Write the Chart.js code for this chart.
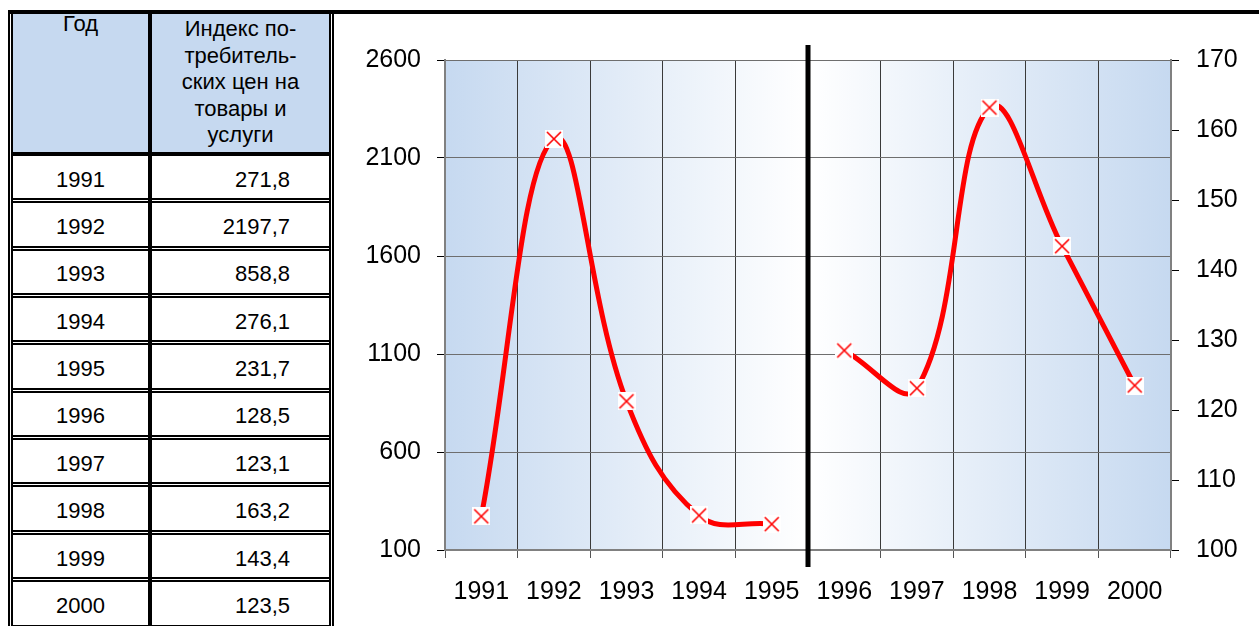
<!DOCTYPE html>
<html>
<head>
<meta charset="utf-8">
<script src="https://cdn.jsdelivr.net/npm/chart.js@4.4.1/dist/chart.umd.min.js"></script>
<style>
  html, body { margin: 0; padding: 0; background: #fff; }
  body { width: 1259px; height: 626px; position: relative; overflow: hidden;
         font-family: 'Liberation Sans', Arial, sans-serif; color: #000; }
  .abs { position: absolute; }
  .blk { position: absolute; background: #000; }
  .dbl-v { position: absolute; box-sizing: border-box; border-left: 2px solid #000; border-right: 2px solid #000; width: 5px; }
  .dbl-h { position: absolute; box-sizing: border-box; border-top: 2px solid #000; border-bottom: 2px solid #000; height: 5px; }
  .hdr { position: absolute; background: #c6d9f0; }
  .cell { position: absolute; font-size: 22px; white-space: nowrap; }
  #chartWrap { position: absolute; left: 335px; top: 15px; width: 924px; height: 611px; }
</style>
</head>
<body>
<div id="table"></div>
<div id="chartWrap"><canvas id="c" width="924" height="611"></canvas></div>
<script>
// ---- data ----
const years = ['1991', '1992', '1993', '1994', '1995', '1996', '1997', '1998', '1999', '2000'];
const cpiEarly = [271.8, 2197.7, 858.8, 276.1, 231.7];   // left axis, 1991-1995
const cpiLate = [128.5, 123.1, 163.2, 143.4, 123.5];     // right axis, 1996-2000
const leftTicks = [100, 600, 1100, 1600, 2100, 2600];
const rightTicks = [100, 110, 120, 130, 140, 150, 160, 170];
const headYear = 'Год';
const headIndexLines = ['Индекс по-', 'требитель-', 'ских цен на', 'товары и', 'услуги'];

// ---- table ----
(function buildTable() {
  const t = document.getElementById('table');
  const add = (cls, css, text, html) => {
    const d = document.createElement('div');
    d.className = cls;
    Object.assign(d.style, css);
    if (text !== undefined) d.textContent = text;
    if (html !== undefined) d.innerHTML = html;
    t.appendChild(d);
    return d;
  };
  add('hdr', { left: '13px', top: '14px', width: '135px', height: '138px' });
  add('hdr', { left: '152px', top: '14px', width: '177px', height: '138px' });
  add('cell', { left: '13px', top: '12px', width: '135px', textAlign: 'center', lineHeight: '24px' }, headYear);
  add('cell', { left: '152px', top: '16px', width: '177px', textAlign: 'center', lineHeight: '26.5px' }, undefined,
      headIndexLines.join('<br>'));
  const values = cpiEarly.concat(cpiLate);
  const pitch = 47.35, y0 = 156;
  years.forEach((yr, i) => {
    const top = y0 + pitch * i;
    add('cell', { left: '13px', top: (top + 2.7) + 'px', width: '135px', height: '42.3px',
                  lineHeight: '42.3px', textAlign: 'center' }, yr);
    add('cell', { left: '152px', top: (top + 2.7) + 'px', width: '138px', height: '42.3px',
                  lineHeight: '42.3px', textAlign: 'right' }, values[i].toFixed(1).replace('.', ','));
    add('dbl-h', { left: '13px', top: (top + pitch - 5) + 'px', width: '316px' });
  });
  add('blk', { left: '13px', top: '152px', width: '316px', height: '4px' });
  add('blk', { left: '148px', top: '14px', width: '4px', height: '612px' });
  add('dbl-v', { left: '8px', top: '10px', height: '616px' });
  add('dbl-v', { left: '329px', top: '10px', height: '616px' });
  add('blk', { left: '8px', top: '10px', width: '1251px', height: '4px' });
})();

// ---- markers ----
function makeMarker() {
  const s = 18, c = document.createElement('canvas');
  c.width = s; c.height = s;
  const g = c.getContext('2d');
  g.fillStyle = '#fff';
  g.fillRect(0, 0, s, s);
  g.strokeStyle = '#ff0000';
  g.lineWidth = 1.6;
  g.beginPath();
  g.moveTo(2, 2); g.lineTo(16, 16);
  g.moveTo(16, 2); g.lineTo(2, 16);
  g.stroke();
  return c;
}
const marker = makeMarker();

const FONT = "'Liberation Sans', Arial, sans-serif";

const bgPlugin = {
  id: 'bg',
  beforeDraw(chart) {
    const { ctx, chartArea: a } = chart;
    const gr = ctx.createLinearGradient(a.left, 0, a.right, 0);
    gr.addColorStop(0, '#c6d9f0');
    gr.addColorStop(0.5, '#ffffff');
    gr.addColorStop(1, '#c6d9f0');
    ctx.save();
    ctx.fillStyle = gr;
    ctx.fillRect(a.left, a.top, a.right - a.left, a.bottom - a.top);
    ctx.restore();
  }
};
const sepPlugin = {
  id: 'sep',
  afterDatasetsDraw(chart) {
    const { ctx, chartArea: a } = chart;
    const xs = chart.scales.x;
    const x = (xs.getPixelForValue(4) + xs.getPixelForValue(5)) / 2;
    ctx.save();
    ctx.strokeStyle = '#000';
    ctx.lineWidth = 5;
    ctx.beginPath();
    ctx.moveTo(x, a.top - 15);
    ctx.lineTo(x, a.bottom + 17);
    ctx.stroke();
    ctx.restore();
  }
};

const nulls = n => Array(n).fill(null);
const plain = v => String(v);

new Chart(document.getElementById('c'), {
  type: 'line',
  data: {
    labels: years,
    datasets: [
      {
        data: cpiEarly.concat(nulls(cpiLate.length)),
        yAxisID: 'y',
        borderColor: '#ff0000',
        borderWidth: 5,
        tension: 0.4,
        pointStyle: marker,
        pointRadius: 9,
        spanGaps: false
      },
      {
        data: nulls(cpiEarly.length).concat(cpiLate),
        yAxisID: 'y1',
        borderColor: '#ff0000',
        borderWidth: 5,
        tension: 0.4,
        pointStyle: marker,
        pointRadius: 9,
        spanGaps: false
      }
    ]
  },
  options: {
    responsive: false,
    animation: false,
    events: [],
    layout: { padding: { top: 45, left: 0, right: 0, bottom: 0 } },
    plugins: { legend: { display: false }, tooltip: { enabled: false } },
    scales: {
      x: {
        type: 'category',
        offset: true,
        grid: { offset: true, color: '#3a3a3a', lineWidth: 1, drawTicks: true, tickLength: 8, tickColor: '#555' },
        border: { display: true, color: '#808080', width: 2 },
        ticks: { color: '#000', font: { family: FONT, size: 25 }, padding: 19, maxRotation: 0, autoSkip: false },
        afterFit(s) { s.height = 76; }
      },
      y: {
        position: 'left',
        min: 100, max: 2600,
        afterBuildTicks(s) { s.ticks = leftTicks.map(v => ({ value: v })); },
        grid: { color: '#6e6e6e', lineWidth: 1, drawTicks: true, tickLength: 8, tickColor: '#000' },
        border: { display: true, color: '#808080', width: 2 },
        ticks: { color: '#000', font: { family: FONT, size: 25 }, padding: 16, callback: plain },
        afterFit(s) { s.width = 110; }
      },
      y1: {
        position: 'right',
        min: 100, max: 170,
        afterBuildTicks(s) { s.ticks = rightTicks.map(v => ({ value: v })); },
        grid: { drawOnChartArea: false, drawTicks: true, tickLength: 8, tickColor: '#000' },
        border: { display: true, color: '#808080', width: 2 },
        ticks: { color: '#000', font: { family: FONT, size: 25 }, padding: 17, callback: plain },
        afterFit(s) { s.width = 88; }
      }
    }
  },
  plugins: [bgPlugin, sepPlugin]
});
</script>
</body>
</html>
